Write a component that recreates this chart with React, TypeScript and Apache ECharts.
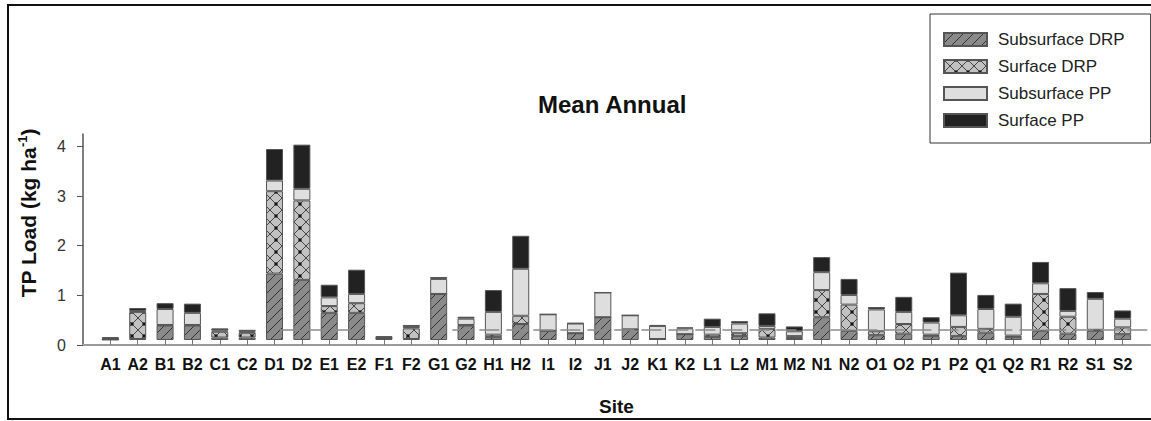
import React, { useEffect, useRef } from "react";
import * as echarts from "echarts";

const sites = [
  "A1", "A2", "B1", "B2", "C1", "C2", "D1", "D2", "E1", "E2", "F1", "F2", "G1", "G2", "H1", "H2", "I1", "I2", "J1",
  "J2", "K1", "K2", "L1", "L2", "M1", "M2", "N1", "N2", "O1", "O2", "P1", "P2", "Q1", "Q2", "R1", "R2", "S1", "S2",
];
const subsurfaceDRP = [
  0.01, 0.02, 0.30, 0.30, 0.05, 0.05, 1.37, 1.24, 0.56, 0.56, 0.02, 0.02, 0.95, 0.30, 0.06, 0.33, 0.19, 0.14, 0.47,
  0.22, 0.02, 0.12, 0.06, 0.08, 0.05, 0.04, 0.47, 0.19, 0.10, 0.13, 0.08, 0.08, 0.15, 0.06, 0.19, 0.13, 0.19, 0.12,
];
const surfaceDRP = [
  0.00, 0.56, 0.01, 0.01, 0.12, 0.10, 1.70, 1.64, 0.14, 0.20, 0.01, 0.22, 0.00, 0.01, 0.05, 0.17, 0.00, 0.00, 0.00,
  0.00, 0.00, 0.00, 0.05, 0.06, 0.18, 0.04, 0.56, 0.54, 0.08, 0.20, 0.03, 0.19, 0.08, 0.03, 0.76, 0.35, 0.02, 0.14,
];
const subsurfacePP = [
  0.01, 0.02, 0.33, 0.25, 0.03, 0.02, 0.22, 0.24, 0.18, 0.19, 0.01, 0.03, 0.31, 0.13, 0.47, 0.97, 0.34, 0.20, 0.51,
  0.29, 0.27, 0.12, 0.16, 0.20, 0.06, 0.10, 0.37, 0.20, 0.45, 0.25, 0.25, 0.24, 0.41, 0.39, 0.22, 0.12, 0.64, 0.18,
];
const surfacePP = [
  0.04, 0.06, 0.12, 0.19, 0.04, 0.04, 0.65, 0.91, 0.26, 0.50, 0.04, 0.04, 0.04, 0.04, 0.45, 0.68, 0.00, 0.01, 0.00,
  0.00, 0.02, 0.02, 0.17, 0.05, 0.26, 0.10, 0.31, 0.33, 0.05, 0.31, 0.11, 0.88, 0.29, 0.27, 0.44, 0.47, 0.14, 0.17,
];
const seriesNames = ["Subsurface DRP", "Surface DRP", "Subsurface PP", "Surface PP"];
const yTicks = [0, 1, 2, 3, 4];
const refLevel = 0.3;
const refSegments = [
  [6.2, 9.2],
  [12.5, 38],
];

const FONT = "'Liberation Sans', Arial, Helvetica, sans-serif";

function makeTile(w: number, h: number, draw: (ctx: CanvasRenderingContext2D, w: number, h: number) => void) {
  const c = document.createElement("canvas");
  c.width = w;
  c.height = h;
  const ctx = c.getContext("2d") as CanvasRenderingContext2D;
  draw(ctx, w, h);
  return { image: c, repeat: "repeat" };
}

export default function App() {
  const ref = useRef<HTMLDivElement>(null);

  useEffect(() => {
    if (!ref.current) return;
    const chart = echarts.init(ref.current, undefined, { renderer: "svg" });

    const hatch = makeTile(10, 10, (ctx, w, h) => {
      ctx.fillStyle = "#8a8a8a";
      ctx.fillRect(0, 0, w, h);
      ctx.strokeStyle = "#333";
      ctx.lineWidth = 1;
      ctx.beginPath();
      ctx.moveTo(0, h);
      ctx.lineTo(w, 0);
      ctx.moveTo(-1, 1);
      ctx.lineTo(1, -1);
      ctx.moveTo(w - 1, h + 1);
      ctx.lineTo(w + 1, h - 1);
      ctx.stroke();
    });
    const cross = makeTile(12, 12, (ctx, w, h) => {
      ctx.fillStyle = "#c2c2c2";
      ctx.fillRect(0, 0, w, h);
      ctx.strokeStyle = "#444";
      ctx.lineWidth = 1;
      ctx.beginPath();
      ctx.moveTo(0, 0);
      ctx.lineTo(w, h);
      ctx.moveTo(w, 0);
      ctx.lineTo(0, h);
      ctx.stroke();
      ctx.fillStyle = "#111";
      [
        [0, 0],
        [w, 0],
        [0, h],
        [w, h],
      ].forEach(([x, y]) => {
        ctx.beginPath();
        ctx.arc(x, y, 1.7, 0, Math.PI * 2);
        ctx.fill();
      });
    });

    const fills: any[] = [hatch, cross, "#dedede", "#222222"];
    const values = [subsurfaceDRP, surfaceDRP, subsurfacePP, surfacePP];

    // Plot frame: x from 83 to 1150, one empty slot on each side of the sites.
    const plotLeft = 83;
    const plotRight = 1150;
    const slot = (plotRight - plotLeft) / (sites.length + 1);
    const top = 134;
    const bottom = 76;

    const series: any[] = seriesNames.map((name, k) => ({
      name,
      type: "bar",
      stack: "tp",
      xAxisIndex: 1,
      yAxisIndex: 1,
      barWidth: 17,
      data: values[k],
      itemStyle: { color: fills[k], borderColor: "#555", borderWidth: 1 },
      emphasis: { disabled: true },
      silent: true,
    }));
    series.push({
      name: "ref",
      type: "line",
      xAxisIndex: 0,
      yAxisIndex: 0,
      data: [],
      silent: true,
      markLine: {
        silent: true,
        symbol: "none",
        label: { show: false },
        lineStyle: { color: "#8c8c8c", width: 1.5, type: [20, 7] },
        data: refSegments.map(([a, b]) => [{ coord: [a, refLevel] }, { coord: [b, refLevel] }]),
      },
    });

    chart.setOption({
      animation: false,
      textStyle: { fontFamily: FONT },
      title: {
        text: "Mean Annual",
        left: 538,
        top: 92,
        padding: 0,
        textStyle: { fontSize: 24, fontWeight: "bold", color: "#111", fontFamily: FONT },
      },
      legend: {
        data: seriesNames,
        orient: "vertical",
        left: 930,
        top: 14,
        padding: [17, 26, 14, 13],
        itemWidth: 43,
        itemHeight: 13,
        itemGap: 10,
        icon: "rect",
        selectedMode: false,
        backgroundColor: "#fff",
        borderColor: "#333",
        borderWidth: 1,
        textStyle: { fontSize: 17, color: "#222", lineHeight: 13, padding: [0, 0, 0, 6], fontFamily: FONT },
      },
      grid: [
        { left: plotLeft, right: 1151 - plotRight, top, bottom },
        { left: plotLeft + slot / 2, right: 1151 - plotRight + slot / 2, top, bottom },
      ],
      xAxis: [
        {
          type: "value",
          gridIndex: 0,
          min: -1,
          max: sites.length,
          splitLine: { show: false },
          axisLine: { show: true, onZero: false, lineStyle: { color: "#999", width: 2 } },
          axisTick: { show: false },
          axisLabel: { show: false },
        },
        {
          type: "category",
          gridIndex: 1,
          data: sites,
          boundaryGap: true,
          axisLine: { show: false },
          axisTick: { show: true, alignWithLabel: true, length: 5, lineStyle: { color: "#777" } },
          axisLabel: {
            interval: 0,
            fontSize: 16,
            fontWeight: "bold",
            color: "#111",
            margin: 16,
            fontFamily: FONT,
          },
          name: "Site",
          nameLocation: "middle",
          nameGap: 57,
          nameTextStyle: { fontSize: 19, fontWeight: "bold", color: "#111", fontFamily: FONT },
        },
      ],
      yAxis: [
        {
          type: "value",
          gridIndex: 0,
          min: 0,
          max: 4.25,
          splitLine: { show: false },
          axisLine: { show: true, onZero: false, lineStyle: { color: "#555", width: 1.5 } },
          axisTick: { show: true, customValues: yTicks, length: 6, lineStyle: { color: "#555" } },
          axisLabel: { customValues: yTicks, fontSize: 16, color: "#333", margin: 17, fontFamily: FONT },
        },
        {
          type: "value",
          gridIndex: 1,
          min: 0,
          max: 4.25,
          show: false,
          splitLine: { show: false },
        },
      ],
      graphic: [
        {
          type: "rect",
          silent: true,
          shape: { x: 8, y: 5, width: 1160, height: 414 },
          style: { fill: "none", stroke: "#111", lineWidth: 2 },
          z: 100,
        },
        {
          type: "text",
          x: 28,
          y: 213,
          rotation: Math.PI / 2,
          silent: true,
          style: {
            text: "{n|TP Load (kg ha}{s|-1}{n|)}",
            align: "center",
            verticalAlign: "middle",
            fill: "#111",
            rich: {
              n: { fontSize: 21, fontWeight: "bold", fontFamily: FONT, fill: "#111", lineHeight: 24 },
              s: { fontSize: 13, fontWeight: "bold", fontFamily: FONT, fill: "#111", lineHeight: 13, verticalAlign: "top" },
            },
          },
        },
      ],
      series,
    });

    return () => chart.dispose();
  }, []);

  return (
    <div
      ref={ref}
      style={{ position: "fixed", left: 0, top: 0, width: 1151, height: 421, background: "#fff" }}
    />
  );
}
